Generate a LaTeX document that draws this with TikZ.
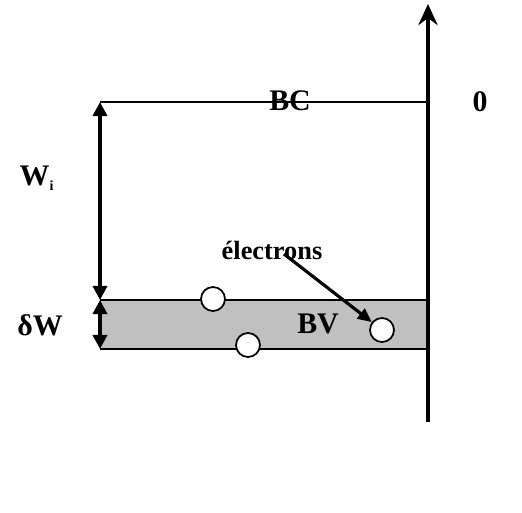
\documentclass[tikz,border=0pt]{standalone}
\usepackage{fontspec}
\setmainfont{Liberation Serif}
\usepackage{tikz}
\usetikzlibrary{arrows.meta}
\definecolor{bandgray}{RGB}{192,192,192}

\begin{document}
\begin{tikzpicture}[x=0.02cm, y=-0.02cm,
    lbl/.style={font=\fontsize{17}{19}\selectfont\bfseries, inner sep=0pt},
    hole/.style={circle, draw=black, fill=white, line width=1pt, minimum size=0.48cm, inner sep=0pt},
    dim/.style={{Triangle[length=8pt,width=8pt]}-{Triangle[length=8pt,width=8pt]}, line width=2pt}]
    %% pixel frame: 522 x 512, axis at x=428, BC at y=102, band y in [300,349]
    \useasboundingbox (0,0) rectangle (522,512);

    % ---- VALENCE BAND ----
    \fill[bandgray] (100,300) rectangle (428,349);
    \draw[line width=1pt] (100,300) -- (428,300);
    \draw[line width=1pt] (100,349) -- (428,349);

    % ---- ENERGY AXIS ----
    \coordinate (axbot) at (428,422);
    \coordinate (axtop) at (428,4);
    \draw[-{Stealth[length=12pt,width=11pt,inset=4pt]}, line width=2pt] (axbot) -- (axtop);

    % ---- CONDUCTION LEVEL ----
    \coordinate (bcl) at (100,102);
    \coordinate (bcr) at (428,102);
    \coordinate (bvt) at (100,300);
    \coordinate (bvb) at (100,349);
    \draw[line width=0.9pt] (bcl) -- (bcr);
    \node[lbl] (bc) at (290,101) {BC};
    \node[lbl] (zero) at (480,102) {0};

    % dimension arrows
    \draw[dim] (bcl) -- (bvt);
    \draw[dim] (bvt) -- (bvb);
    \node[lbl] (wi) at (37,178) {W\textsubscript{\fontsize{8}{9}\selectfont i}};
    \node[lbl] (dw) at (40,325) {δW};
    \node[lbl] (bv) at (318,324) {BV};

    % ---- HOLES / ELECTRONS ----
    \node[hole] (h1) at (213,299) {};
    \node[hole] (h2) at (248,345) {};
    \node[hole] (h3) at (382,330) {};
    \node[lbl, font=\fontsize{15}{17}\selectfont\bfseries] (el) at (272,250) {électrons};
    \draw[-{Triangle[length=8pt,width=7pt]}, line width=1.8pt] (284,254) -- (h3);

  \end{tikzpicture}
\end{document}
